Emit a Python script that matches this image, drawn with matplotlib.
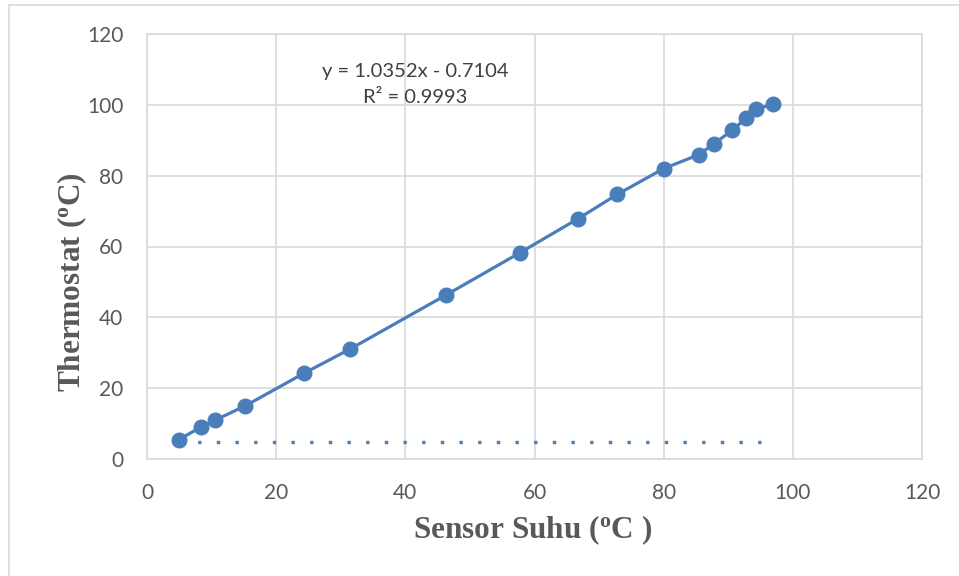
import matplotlib
matplotlib.use("Agg")
import matplotlib.pyplot as plt
from matplotlib.patches import Rectangle

# data
sensor = [5.0, 8.4, 10.6, 15.2, 24.3, 31.5, 46.3, 57.7, 66.8, 72.8, 80.0,
          85.4, 87.8, 90.6, 92.8, 94.3, 96.9]
thermo = [5.5, 9.1, 11.0, 15.0, 24.2, 31.1, 46.3, 58.2, 67.9, 74.7, 82.0,
          85.9, 89.0, 92.8, 96.3, 98.8, 100.2]
dotted_x = [5.0, 96.9]
dotted_y = [4.7, 4.7]
ticks = [0, 20, 40, 60, 80, 100, 120]
eq_text = "y = 1.0352x - 0.7104\nR² = 0.9993"

plt.rcParams["mathtext.fontset"] = "custom"
plt.rcParams["mathtext.rm"] = "Liberation Serif:bold"
plt.rcParams["mathtext.it"] = "Liberation Serif:bold"
plt.rcParams["mathtext.bf"] = "Liberation Serif:bold"

fig = plt.figure(figsize=[9.59, 5.76], dpi=100)
# outer chart border (only left/top visible in the reference)
fig.patches.append(Rectangle((9 / 959, -0.1), 1.2, 1 - 5 / 576 + 0.1,
                             transform=fig.transFigure, fill=False,
                             edgecolor="#d9d9d9", linewidth=1.2))

ax = fig.add_axes([147 / 959, 1 - 459 / 576, 775 / 959, 425 / 576])
blue = "#4a7ebb"
ax.plot(sensor, thermo, color=blue, linewidth=2.3, marker="o",
        markersize=10.5, zorder=3)
ax.plot(dotted_x, dotted_y, color=blue, linewidth=2.4,
        linestyle=(0, (1, 4.6)), dash_capstyle="butt", zorder=2)

ax.set_xlim(0, 120)
ax.set_ylim(0, 120)
ax.set_xticks(ticks)
ax.set_yticks(ticks)
ax.grid(True, color="#d9d9d9", linewidth=1.2)
ax.set_axisbelow(True)
for s in ax.spines.values():
    s.set_color("#d9d9d9")
    s.set_linewidth(1.2)
ax.tick_params(length=0, labelsize=15, labelcolor="#595959",
               labelfontfamily="Lato")
ax.tick_params(axis="x", pad=17.5)
ax.tick_params(axis="y", pad=17)

ax.text(415 / 959, 1 - 84.5 / 576, eq_text, transform=fig.transFigure,
        ha="center", va="center", fontsize=14.5, color="#404040",
        family="Lato", linespacing=1.6)

fig.text(533 / 959, 1 - 530 / 576, r"Sensor Suhu ($^{\mathrm{o}}$C )",
         ha="center", va="center", fontsize=22.5, fontweight="bold",
         family="Liberation Serif", color="#595959")
fig.text(72 / 959, 1 - 282 / 576, r"Thermostat ($^{\mathrm{o}}$C)",
         ha="center", va="center", rotation=90, fontsize=22.5,
         fontweight="bold", family="Liberation Serif", color="#595959")

fig.savefig("out.png", dpi=100)
